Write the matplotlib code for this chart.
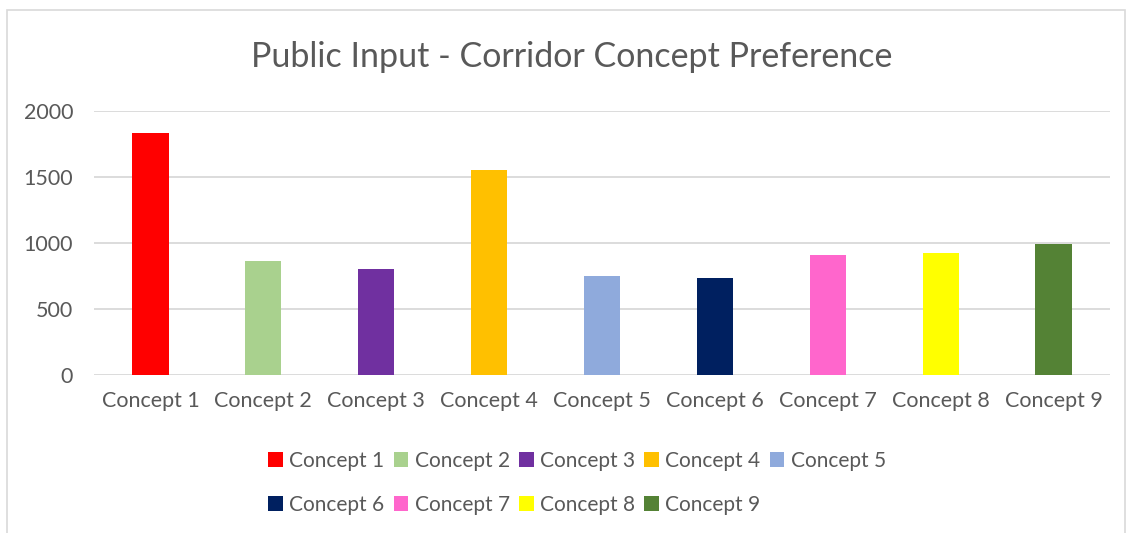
import matplotlib
matplotlib.use('Agg')
import matplotlib.pyplot as plt
from matplotlib.patches import Rectangle, Patch

concepts = ['Concept 1', 'Concept 2', 'Concept 3', 'Concept 4', 'Concept 5',
            'Concept 6', 'Concept 7', 'Concept 8', 'Concept 9']
votes = [1834, 865, 805, 1554, 752, 737, 910, 926, 994]
colors = ['#ff0000', '#a9d18e', '#7030a0', '#ffc000', '#8faadc',
          '#002060', '#ff66cc', '#ffff00', '#548235']
yticks = [0, 500, 1000, 1500, 2000]

txt = '#595959'
grid = '#d9d9d9'
plt.rcParams['font.family'] = ['Lato', 'DejaVu Sans']

fig = plt.figure(figsize=(11.28, 5.33), dpi=100)
ax = fig.add_axes([94 / 1128, 1 - 375.3 / 533, (1110 - 94) / 1128, (375.3 - 111) / 533])

x = list(range(len(concepts)))
bars = ax.bar(x, votes, width=0.32, color=colors, zorder=3)

ax.set_xlim(-0.5, len(concepts) - 0.5)
ax.set_ylim(0, 2000)
ax.set_yticks(yticks)
ax.set_xticks(x)
ax.set_xticklabels(concepts)
ax.tick_params(axis='both', length=0, labelsize=15.5, colors=txt)
ax.tick_params(axis='x', pad=11)
ax.tick_params(axis='y', pad=15)
ax.yaxis.grid(True, color=grid, linewidth=1.3, zorder=0)
for s in ax.spines.values():
    s.set_visible(False)

fig.text(572 / 1128, 1 - 57 / 533, 'Public Input - Corridor Concept Preference',
         ha='center', va='center', fontsize=24.5, color=txt)

# legend in row order: reorder for matplotlib column-major fill
order = [0, 5, 1, 6, 2, 7, 3, 8, 4]
handles = [Patch(facecolor=colors[i], edgecolor='none') for i in order]
labels = [concepts[i] for i in order]
fig.legend(handles, labels, ncol=5, loc='center', bbox_to_anchor=(577 / 1128, 1 - 483 / 533),
           frameon=False, fontsize=15, labelcolor=txt, handlelength=0.7, handleheight=0.7,
           handletextpad=0.3, columnspacing=0.45, labelspacing=1.15)

# outer chart border
fig.patches.append(Rectangle((7 / 1128, -0.1), (1125 - 7) / 1128, 1.1 - 10 / 533,
                             transform=fig.transFigure, fill=False,
                             edgecolor=grid, linewidth=1.2))

fig.savefig('out.png', dpi=100, facecolor='white')
